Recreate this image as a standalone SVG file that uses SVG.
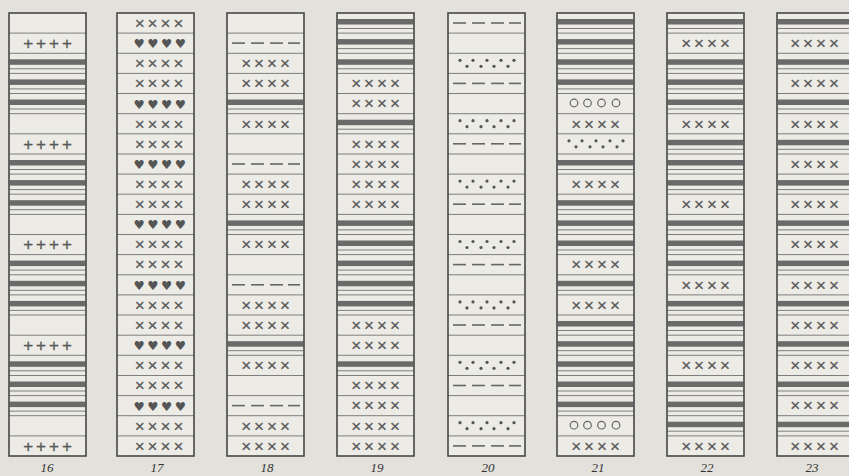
<svg xmlns="http://www.w3.org/2000/svg" xmlns:xlink="http://www.w3.org/1999/xlink" width="849" height="476" viewBox="0 0 849 476">
<style>
.bg{fill:#e3e1db}
.cell{fill:#ecebe6}
.frame{fill:none;stroke:#474747;stroke-width:1.6}
.gl{stroke:#7e7e7e;stroke-width:1}
.band{fill:#6a6a6a}
.x{font-family:"Liberation Sans",Arial,sans-serif;font-size:17px;fill:#5a5a5a;stroke:#5a5a5a;stroke-width:0.3;text-anchor:middle;letter-spacing:3px}
.h{font-family:"DejaVu Sans",sans-serif;font-size:12.5px;fill:#555;text-anchor:middle;letter-spacing:2.5px}
.lab{font-family:"Liberation Serif",serif;font-style:italic;font-size:13px;fill:#333;text-anchor:middle}
.dash{stroke:#666;stroke-width:1.6}
.dot{fill:#555}
.circ{fill:none;stroke:#666;stroke-width:1.2}
</style>
<defs>
<g id="grid">
<line class="gl" x1="0" x2="77" y1="33.1" y2="33.1"/><line class="gl" x1="0" x2="77" y1="53.3" y2="53.3"/>
<line class="gl" x1="0" x2="77" y1="73.4" y2="73.4"/><line class="gl" x1="0" x2="77" y1="93.5" y2="93.5"/>
<line class="gl" x1="0" x2="77" y1="113.7" y2="113.7"/><line class="gl" x1="0" x2="77" y1="133.8" y2="133.8"/>
<line class="gl" x1="0" x2="77" y1="154" y2="154"/><line class="gl" x1="0" x2="77" y1="174.1" y2="174.1"/>
<line class="gl" x1="0" x2="77" y1="194.2" y2="194.2"/><line class="gl" x1="0" x2="77" y1="214.4" y2="214.4"/>
<line class="gl" x1="0" x2="77" y1="234.5" y2="234.5"/><line class="gl" x1="0" x2="77" y1="254.6" y2="254.6"/>
<line class="gl" x1="0" x2="77" y1="274.8" y2="274.8"/><line class="gl" x1="0" x2="77" y1="294.9" y2="294.9"/>
<line class="gl" x1="0" x2="77" y1="315" y2="315"/><line class="gl" x1="0" x2="77" y1="335.2" y2="335.2"/>
<line class="gl" x1="0" x2="77" y1="355.3" y2="355.3"/><line class="gl" x1="0" x2="77" y1="375.5" y2="375.5"/>
<line class="gl" x1="0" x2="77" y1="395.6" y2="395.6"/><line class="gl" x1="0" x2="77" y1="415.7" y2="415.7"/>
<line class="gl" x1="0" x2="77" y1="435.9" y2="435.9"/>
</g>
<g id="S"><rect class="band" x="0.5" y="6" width="76" height="5.5"/><line class="gl" x1="0" x2="77" y1="15.5" y2="15.5"/></g>
<g id="D"><line class="dash" x1="5" x2="18" y1="10" y2="10"/><line class="dash" x1="24" x2="37" y1="10" y2="10"/><line class="dash" x1="43" x2="56" y1="10" y2="10"/><line class="dash" x1="61" x2="73" y1="10" y2="10"/></g>
<g id="O"><circle class="dot" cx="12" cy="7" r="1.6"/><circle class="dot" cx="25" cy="7" r="1.6"/><circle class="dot" cx="39" cy="7" r="1.6"/><circle class="dot" cx="53" cy="7" r="1.6"/><circle class="dot" cx="66" cy="7" r="1.6"/><circle class="dot" cx="19" cy="13" r="1.6"/><circle class="dot" cx="33" cy="13" r="1.6"/><circle class="dot" cx="46" cy="13" r="1.6"/><circle class="dot" cx="60" cy="13" r="1.6"/></g>
<g id="C"><circle class="circ" cx="17" cy="9.5" r="3.8"/><circle class="circ" cx="30.5" cy="9.5" r="3.8"/><circle class="circ" cx="44.5" cy="9.5" r="3.8"/><circle class="circ" cx="59" cy="9.5" r="3.8"/></g>
</defs>
<rect class="bg" x="0" y="0" width="849" height="476"/>

<g id="col16">
<rect class="cell" x="9" y="13" width="77" height="443"/>
<use href="#grid" x="9"/>
<use href="#S" x="9" y="53.3"/><use href="#S" x="9" y="73.4"/><use href="#S" x="9" y="93.5"/>
<use href="#S" x="9" y="154"/><use href="#S" x="9" y="174.1"/><use href="#S" x="9" y="194.2"/>
<use href="#S" x="9" y="254.6"/><use href="#S" x="9" y="274.8"/><use href="#S" x="9" y="294.9"/>
<use href="#S" x="9" y="355.3"/><use href="#S" x="9" y="375.5"/><use href="#S" x="9" y="395.6"/>
<text class="x" x="49" y="48.9">++++</text>
<text class="x" x="49" y="149.6">++++</text>
<text class="x" x="49" y="250.3">++++</text>
<text class="x" x="49" y="351">++++</text>
<text class="x" x="49" y="451.7">++++</text>
<rect class="frame" x="9" y="13" width="77" height="443"/>
<text class="lab" x="47" y="472">16</text>
</g>

<g id="col17">
<rect class="cell" x="117" y="13" width="77" height="443"/>
<use href="#grid" x="117"/>
<text class="x" x="160.5" y="28.8">××××</text>
<text class="h" x="161" y="48.1">♥♥♥♥</text>
<text class="x" x="160.5" y="69.1">××××</text>
<text class="x" x="160.5" y="89.2">××××</text>
<text class="h" x="161" y="108.5">♥♥♥♥</text>
<text class="x" x="160.5" y="129.5">××××</text>
<text class="x" x="160.5" y="149.6">××××</text>
<text class="h" x="161" y="169">♥♥♥♥</text>
<text class="x" x="160.5" y="189.9">××××</text>
<text class="x" x="160.5" y="210">××××</text>
<text class="h" x="161" y="229.4">♥♥♥♥</text>
<text class="x" x="160.5" y="250.3">××××</text>
<text class="x" x="160.5" y="270.4">××××</text>
<text class="h" x="161" y="289.8">♥♥♥♥</text>
<text class="x" x="160.5" y="310.7">××××</text>
<text class="x" x="160.5" y="330.8">××××</text>
<text class="h" x="161" y="350.2">♥♥♥♥</text>
<text class="x" x="160.5" y="371.1">××××</text>
<text class="x" x="160.5" y="391.3">××××</text>
<text class="h" x="161" y="410.6">♥♥♥♥</text>
<text class="x" x="160.5" y="431.5">××××</text>
<text class="x" x="160.5" y="451.7">××××</text>
<rect class="frame" x="117" y="13" width="77" height="443"/>
<text class="lab" x="157" y="472">17</text>
</g>

<g id="col18">
<rect class="cell" x="227" y="13" width="77" height="443"/>
<use href="#grid" x="227"/>
<use href="#D" x="227" y="33.1"/><use href="#D" x="227" y="154"/><use href="#D" x="227" y="274.8"/><use href="#D" x="227" y="395.6"/>
<use href="#S" x="227" y="93.5"/><use href="#S" x="227" y="214.4"/><use href="#S" x="227" y="335.2"/>
<text class="x" x="267" y="69.1">××××</text>
<text class="x" x="267" y="89.2">××××</text>
<text class="x" x="267" y="129.5">××××</text>
<text class="x" x="267" y="189.9">××××</text>
<text class="x" x="267" y="210">××××</text>
<text class="x" x="267" y="250.3">××××</text>
<text class="x" x="267" y="310.7">××××</text>
<text class="x" x="267" y="330.8">××××</text>
<text class="x" x="267" y="371.1">××××</text>
<text class="x" x="267" y="431.5">××××</text>
<text class="x" x="267" y="451.7">××××</text>
<rect class="frame" x="227" y="13" width="77" height="443"/>
<text class="lab" x="267" y="472">18</text>
</g>

<g id="col19">
<rect class="cell" x="337" y="13" width="77" height="443"/>
<use href="#grid" x="337"/>
<use href="#S" x="337" y="13"/><use href="#S" x="337" y="33.1"/><use href="#S" x="337" y="53.3"/>
<use href="#S" x="337" y="113.7"/>
<use href="#S" x="337" y="214.4"/><use href="#S" x="337" y="234.5"/><use href="#S" x="337" y="254.6"/><use href="#S" x="337" y="274.8"/><use href="#S" x="337" y="294.9"/>
<use href="#S" x="337" y="355.3"/>
<text class="x" x="377" y="89.2">××××</text>
<text class="x" x="377" y="109.3">××××</text>
<text class="x" x="377" y="149.6">××××</text>
<text class="x" x="377" y="169.8">××××</text>
<text class="x" x="377" y="189.9">××××</text>
<text class="x" x="377" y="210">××××</text>
<text class="x" x="377" y="330.8">××××</text>
<text class="x" x="377" y="351">××××</text>
<text class="x" x="377" y="391.3">××××</text>
<text class="x" x="377" y="411.4">××××</text>
<text class="x" x="377" y="431.5">××××</text>
<text class="x" x="377" y="451.7">××××</text>
<rect class="frame" x="337" y="13" width="77" height="443"/>
<text class="lab" x="377" y="472">19</text>
</g>

<g id="col20">
<rect class="cell" x="448" y="13" width="77" height="443"/>
<use href="#grid" x="448"/>
<use href="#D" x="448" y="13"/><use href="#D" x="448" y="73.4"/><use href="#D" x="448" y="133.8"/><use href="#D" x="448" y="194.2"/>
<use href="#D" x="448" y="254.6"/><use href="#D" x="448" y="315"/><use href="#D" x="448" y="375.5"/><use href="#D" x="448" y="435.9"/>
<use href="#O" x="448" y="53.3"/><use href="#O" x="448" y="113.7"/><use href="#O" x="448" y="174.1"/><use href="#O" x="448" y="234.5"/>
<use href="#O" x="448" y="294.9"/><use href="#O" x="448" y="355.3"/><use href="#O" x="448" y="415.7"/>
<rect class="frame" x="448" y="13" width="77" height="443"/>
<text class="lab" x="488" y="472">20</text>
</g>

<g id="col21">
<rect class="cell" x="557" y="13" width="77" height="443"/>
<use href="#grid" x="557"/>
<use href="#S" x="557" y="13"/><use href="#S" x="557" y="33.1"/><use href="#S" x="557" y="53.3"/><use href="#S" x="557" y="73.4"/>
<use href="#S" x="557" y="154"/>
<use href="#S" x="557" y="194.2"/><use href="#S" x="557" y="214.4"/><use href="#S" x="557" y="234.5"/>
<use href="#S" x="557" y="274.8"/>
<use href="#S" x="557" y="315"/><use href="#S" x="557" y="335.2"/><use href="#S" x="557" y="355.3"/><use href="#S" x="557" y="375.5"/><use href="#S" x="557" y="395.6"/>
<use href="#C" x="557" y="93.5"/><use href="#C" x="557" y="415.7"/>
<use href="#O" x="557" y="133.8"/>
<text class="x" x="597" y="129.5">××××</text>
<text class="x" x="597" y="189.9">××××</text>
<text class="x" x="597" y="270.4">××××</text>
<text class="x" x="597" y="310.7">××××</text>
<text class="x" x="597" y="451.7">××××</text>
<rect class="frame" x="557" y="13" width="77" height="443"/>
<text class="lab" x="598" y="472">21</text>
</g>

<g id="col22">
<rect class="cell" x="667" y="13" width="77" height="443"/>
<use href="#grid" x="667"/>
<use href="#S" x="667" y="13"/>
<use href="#S" x="667" y="53.3"/><use href="#S" x="667" y="73.4"/><use href="#S" x="667" y="93.5"/>
<use href="#S" x="667" y="133.8"/><use href="#S" x="667" y="154"/><use href="#S" x="667" y="174.1"/>
<use href="#S" x="667" y="214.4"/><use href="#S" x="667" y="234.5"/><use href="#S" x="667" y="254.6"/>
<use href="#S" x="667" y="294.9"/><use href="#S" x="667" y="315"/><use href="#S" x="667" y="335.2"/>
<use href="#S" x="667" y="375.5"/><use href="#S" x="667" y="395.6"/><use href="#S" x="667" y="415.7"/>
<text class="x" x="707" y="48.9">××××</text>
<text class="x" x="707" y="129.5">××××</text>
<text class="x" x="707" y="210">××××</text>
<text class="x" x="707" y="290.6">××××</text>
<text class="x" x="707" y="371.1">××××</text>
<text class="x" x="707" y="451.7">××××</text>
<rect class="frame" x="667" y="13" width="77" height="443"/>
<text class="lab" x="707" y="472">22</text>
</g>

<g id="col23">
<rect class="cell" x="777" y="13" width="77" height="443"/>
<use href="#grid" x="777"/>
<use href="#S" x="777" y="13"/><use href="#S" x="777" y="53.3"/><use href="#S" x="777" y="93.5"/><use href="#S" x="777" y="133.8"/>
<use href="#S" x="777" y="174.1"/><use href="#S" x="777" y="214.4"/><use href="#S" x="777" y="254.6"/><use href="#S" x="777" y="294.9"/>
<use href="#S" x="777" y="335.2"/><use href="#S" x="777" y="375.5"/><use href="#S" x="777" y="415.7"/>
<text class="x" x="816" y="48.9">××××</text>
<text class="x" x="816" y="89.2">××××</text>
<text class="x" x="816" y="129.5">××××</text>
<text class="x" x="816" y="169.8">××××</text>
<text class="x" x="816" y="210">××××</text>
<text class="x" x="816" y="250.3">××××</text>
<text class="x" x="816" y="290.6">××××</text>
<text class="x" x="816" y="330.8">××××</text>
<text class="x" x="816" y="371.1">××××</text>
<text class="x" x="816" y="411.4">××××</text>
<text class="x" x="816" y="451.7">××××</text>
<rect class="frame" x="777" y="13" width="77" height="443"/>
<text class="lab" x="812" y="472">23</text>
</g>
</svg>
